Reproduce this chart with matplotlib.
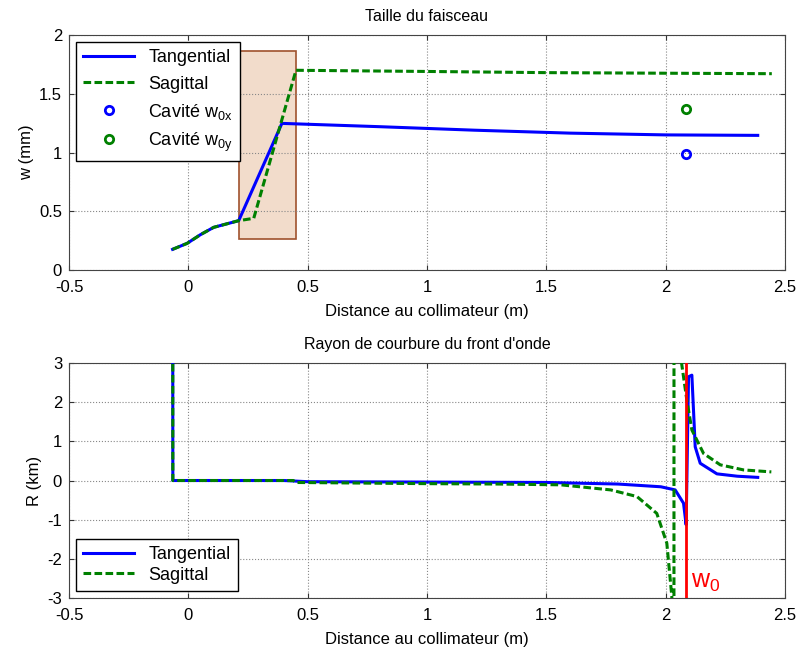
import numpy as np
import matplotlib.pyplot as plt
from matplotlib.patches import Rectangle

plt.rcParams['font.family'] = ['Liberation Sans', 'DejaVu Sans']
plt.rcParams['axes.unicode_minus'] = False
plt.rcParams['mathtext.default'] = 'regular'

# taille du faisceau (mm)
x_tan_w = [-0.066, -0.005, 0.05, 0.106, 0.211, 0.392, 0.8, 1.2, 1.6, 2.0, 2.386]
w_tan = [0.176, 0.227, 0.30, 0.363, 0.42, 1.248, 1.22, 1.19, 1.165, 1.15, 1.146]
x_sag_w = [-0.066, -0.005, 0.05, 0.106, 0.211, 0.274, 0.451, 1.0, 1.5, 2.0, 2.445]
w_sag = [0.176, 0.227, 0.30, 0.363, 0.42, 0.44, 1.70, 1.69, 1.68, 1.675, 1.671]
cav_x = [2.086]
cav_w0x = [0.985]
cav_w0y = [1.373]

# rayon de courbure (km)
x_tan_r = [-0.066, -0.065, 0.4, 0.5, 1.0, 1.5, 1.8, 1.98, 2.04, 2.075, 2.086, 2.096, 2.11,
           2.124, 2.145, 2.215, 2.3, 2.386]
r_tan = [10, 0.0, 0.0, -0.03, -0.04, -0.05, -0.09, -0.16, -0.24, -0.58, -1.13, 2.65, 2.69,
         0.86, 0.44, 0.17, 0.11, 0.08]
x_sag_r = [-0.066, -0.065, 0.44, 0.45, 1.0, 1.3, 1.56, 1.77, 1.88, 1.963, 2.005, 2.026, 2.034,
           2.036, 2.067, 2.089, 2.11, 2.159, 2.229, 2.327, 2.443]
r_sag = [10, 0.0, 0.0, -0.05, -0.08, -0.09, -0.11, -0.24, -0.41, -0.84, -1.6, -2.96, -50,
         50, 2.99, 2.05, 1.29, 0.69, 0.40, 0.27, 0.22]
x_w0 = 2.086

fig = plt.figure(figsize=(7.99, 6.5), dpi=100)
ax1 = fig.add_axes([0.0864, 0.5846, 0.896, 0.3615])
ax2 = fig.add_axes([0.0864, 0.08, 0.896, 0.3615])

ax1.add_patch(Rectangle((0.214, 0.261), 0.238, 1.605, facecolor='#f2dccb',
                        edgecolor='#a0522d', lw=1.2, zorder=1))
ax1.plot(x_tan_w, w_tan, c='b', lw=2.2, label='Tangential', zorder=3)
ax1.plot(x_sag_w, w_sag, c='g', ls='--', dashes=(2.5, 1.1), lw=2.2, label='Sagittal', zorder=3)
ax1.plot(cav_x, cav_w0x, 'o', mfc='none', mec='b', mew=2, ms=6, label='Cavité w$_{0x}$')
ax1.plot(cav_x, cav_w0y, 'o', mfc='none', mec='g', mew=2, ms=6, label='Cavité w$_{0y}$')
ax1.set_xlim(-0.5, 2.5)
ax1.set_ylim(0, 2)
ax1.set_yticks([0, 0.5, 1, 1.5, 2])
ax1.set_yticklabels(['0', '0.5', '1', '1.5', '2'])
ax1.set_title('Taille du faisceau', fontsize=11.5, pad=10)
ax1.set_xlabel('Distance au collimateur (m)', fontsize=12, labelpad=7)
ax1.set_ylabel('w (mm)', fontsize=12, labelpad=4)
ax1.legend(loc='upper left', fontsize=13, fancybox=False, edgecolor='k',
           framealpha=1, borderaxespad=0.4, handlelength=2.8, labelspacing=0.5)

ax2.plot(x_tan_r, r_tan, c='b', lw=2.2, label='Tangential', zorder=3)
ax2.plot(x_sag_r, r_sag, c='g', ls='--', dashes=(2.5, 1.1), lw=2.2, label='Sagittal', zorder=3)
ax2.axvline(x_w0, c='r', lw=2, zorder=4)
ax2.text(x_w0 + 0.02, -2.75, 'w$_0$', color='r', fontsize=18)
ax2.set_xlim(-0.5, 2.5)
ax2.set_ylim(-3, 3)
ax2.set_title("Rayon de courbure du front d'onde", fontsize=11.5, pad=10)
ax2.set_xlabel('Distance au collimateur (m)', fontsize=12, labelpad=7)
ax2.set_ylabel('R (km)', fontsize=12, labelpad=4)
ax2.legend(loc='lower left', fontsize=13, fancybox=False, edgecolor='k',
           framealpha=1, borderaxespad=0.4, handlelength=2.8, labelspacing=0.2)

for ax in (ax1, ax2):
    ax.set_xticks([-0.5, 0, 0.5, 1, 1.5, 2, 2.5])
    ax.set_xticklabels(['-0.5', '0', '0.5', '1', '1.5', '2', '2.5'])
    ax.grid(ls=':', c='#888888', lw=0.8)
    ax.tick_params(direction='in', top=True, right=True, labelsize=12, colors='#333333',
                   labelcolor='k', pad=5)
    ax.tick_params(axis='x', pad=7)
    for s in ax.spines.values():
        s.set_color('#444444')

fig.savefig('out.png', dpi=100)
